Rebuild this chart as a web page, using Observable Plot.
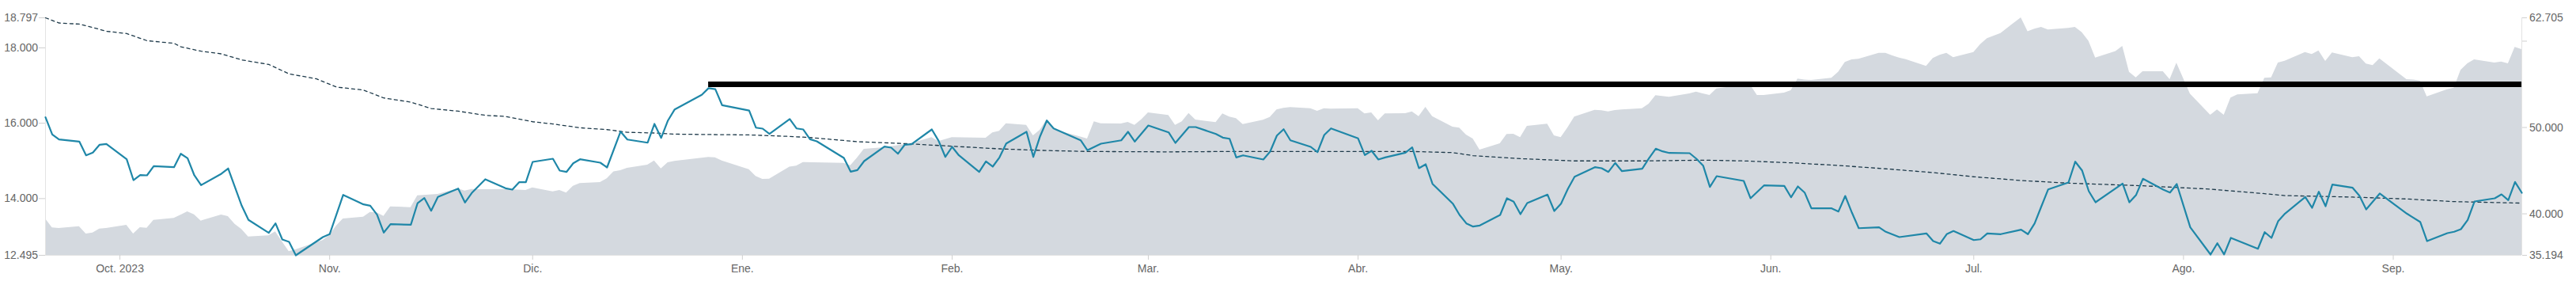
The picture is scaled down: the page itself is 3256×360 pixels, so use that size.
<!DOCTYPE html>
<html>
<head>
<meta charset="utf-8">
<script src="https://cdn.jsdelivr.net/npm/d3@7"></script>
<script src="https://cdn.jsdelivr.net/npm/@observablehq/plot@0.6"></script>
<style>
  html, body { margin: 0; padding: 0; background: #fff; }
  #chart { width: 3256px; height: 360px; }
  svg { font-family: "Liberation Sans", Arial, sans-serif; }
</style>
</head>
<body>
<div id="chart"></div>
<script>
// ---- Price (left axis, blue line) ----
const priceDates = ["2023-09-20","2023-09-21","2023-09-22","2023-09-25","2023-09-26","2023-09-27","2023-09-28","2023-09-29",
"2023-10-02","2023-10-03","2023-10-04","2023-10-05","2023-10-06","2023-10-09","2023-10-10","2023-10-11","2023-10-12","2023-10-13",
"2023-10-16","2023-10-17","2023-10-19","2023-10-20","2023-10-23","2023-10-24","2023-10-25","2023-10-26","2023-10-27","2023-10-31",
"2023-11-01","2023-11-03","2023-11-06","2023-11-07","2023-11-08","2023-11-09","2023-11-10","2023-11-13","2023-11-14","2023-11-15",
"2023-11-16","2023-11-17","2023-11-20","2023-11-21","2023-11-22","2023-11-24","2023-11-27","2023-11-28","2023-11-29","2023-11-30",
"2023-12-01","2023-12-04","2023-12-05","2023-12-06","2023-12-07","2023-12-08","2023-12-11","2023-12-12","2023-12-14","2023-12-15",
"2023-12-18","2023-12-19","2023-12-20","2023-12-21","2023-12-22","2023-12-26","2023-12-27","2023-12-28","2023-12-29",
"2024-01-02","2024-01-03","2024-01-04","2024-01-05","2024-01-08","2024-01-09","2024-01-10","2024-01-11","2024-01-12","2024-01-16",
"2024-01-17","2024-01-18","2024-01-19","2024-01-22","2024-01-23","2024-01-24","2024-01-25","2024-01-26","2024-01-29","2024-01-30",
"2024-01-31","2024-02-01","2024-02-02","2024-02-05","2024-02-06","2024-02-07","2024-02-08","2024-02-09","2024-02-12","2024-02-13",
"2024-02-14","2024-02-15","2024-02-16","2024-02-20","2024-02-21","2024-02-23","2024-02-26","2024-02-27","2024-02-28","2024-03-01",
"2024-03-04","2024-03-05","2024-03-07","2024-03-08","2024-03-11","2024-03-12","2024-03-13","2024-03-14","2024-03-15","2024-03-18",
"2024-03-19","2024-03-20","2024-03-21","2024-03-22","2024-03-25","2024-03-26","2024-03-27","2024-03-28","2024-04-01","2024-04-02",
"2024-04-03","2024-04-04","2024-04-05","2024-04-08","2024-04-09","2024-04-10","2024-04-11","2024-04-12","2024-04-15","2024-04-16",
"2024-04-17","2024-04-18","2024-04-19","2024-04-22","2024-04-23","2024-04-24","2024-04-25","2024-04-26","2024-04-29","2024-04-30",
"2024-05-01","2024-05-02","2024-05-03","2024-05-06","2024-05-07","2024-05-08","2024-05-09","2024-05-10","2024-05-13","2024-05-14",
"2024-05-15","2024-05-16","2024-05-17","2024-05-20","2024-05-21","2024-05-22","2024-05-23","2024-05-24","2024-05-28","2024-05-29",
"2024-05-31","2024-06-03","2024-06-04","2024-06-05","2024-06-06","2024-06-07","2024-06-10","2024-06-11","2024-06-12","2024-06-13",
"2024-06-14","2024-06-17","2024-06-18","2024-06-20","2024-06-24","2024-06-25","2024-06-26","2024-06-27","2024-06-28","2024-07-01",
"2024-07-02","2024-07-03","2024-07-05","2024-07-08","2024-07-09","2024-07-10","2024-07-11","2024-07-12","2024-07-15","2024-07-16",
"2024-07-17","2024-07-18","2024-07-19","2024-07-23","2024-07-24","2024-07-25","2024-07-26","2024-07-29","2024-07-30","2024-07-31",
"2024-08-02","2024-08-05","2024-08-06","2024-08-07","2024-08-08","2024-08-12","2024-08-13","2024-08-14","2024-08-15","2024-08-16",
"2024-08-19","2024-08-20","2024-08-21","2024-08-22","2024-08-23","2024-08-26","2024-08-27","2024-08-28","2024-08-30","2024-09-03",
"2024-09-05","2024-09-06","2024-09-09","2024-09-10","2024-09-11","2024-09-12","2024-09-13","2024-09-16","2024-09-17","2024-09-18",
"2024-09-19","2024-09-20"];
const priceValues = [16.157,15.702,15.568,15.514,15.148,15.219,15.430,15.450,
15.043,14.490,14.623,14.617,14.862,14.833,15.190,15.072,14.617,14.358,
14.659,14.800,13.812,13.434,13.090,13.342,12.915,12.852,12.495,12.978,
13.056,14.098,13.846,13.812,13.573,13.098,13.321,13.308,13.881,14.014,
13.678,14.043,14.266,13.896,14.148,14.512,14.274,14.238,14.434,14.434,
14.974,15.058,14.743,14.707,14.938,15.043,14.953,14.827,15.778,15.568,
15.484,15.982,15.610,16.072,16.367,16.753,16.930,16.903,16.480,
16.335,15.883,15.856,15.715,16.112,15.862,15.835,15.576,15.520,15.079,
14.715,14.757,14.995,15.379,15.352,15.190,15.430,15.442,15.835,15.534,
15.106,15.373,15.148,14.707,14.988,14.848,15.093,15.463,15.772,15.106,
15.652,16.072,15.862,15.547,15.282,15.457,15.547,15.772,15.514,15.940,
15.757,15.478,15.898,15.898,15.715,15.618,15.589,15.093,15.148,15.037,
15.247,15.673,15.841,15.547,15.373,15.232,15.688,15.862,15.597,15.155,
15.268,15.037,15.093,15.219,15.358,14.806,14.911,14.392,13.867,13.566,
13.342,13.258,13.287,13.566,14.008,13.917,13.587,13.881,14.106,13.671,
13.867,14.253,14.581,14.833,14.806,14.707,14.946,14.728,14.791,15.072,
15.324,15.254,15.211,15.205,15.058,14.875,14.308,14.596,14.470,14.008,
14.350,14.337,14.035,14.323,14.161,13.741,13.741,13.657,14.070,13.623,
13.215,13.237,13.119,12.978,13.077,12.873,12.803,13.056,13.140,12.900,
12.921,13.077,13.056,13.174,13.056,13.342,13.797,14.245,14.428,14.980,
14.749,14.196,13.902,14.400,13.902,14.098,14.526,14.238,14.161,14.386,
13.237,12.516,12.816,12.520,12.957,12.669,13.110,12.957,13.405,13.602,
14.043,13.755,14.182,13.797,14.371,14.287,14.077,13.713,14.134,13.602,
13.377,12.873,13.083,13.119,13.188,13.434,13.923,14.008,14.112,13.959,
14.442,14.154];

// ---- Moving average (left axis, dashed) ----
const maDates = ["2023-09-20","2023-09-22","2023-09-25","2023-09-27","2023-09-29","2023-10-02","2023-10-05","2023-10-09","2023-10-10",
"2023-10-13","2023-10-16","2023-10-19","2023-10-23","2023-10-26","2023-10-30","2023-11-02","2023-11-06","2023-11-09","2023-11-13",
"2023-11-16","2023-11-20","2023-11-24","2023-11-27","2023-12-01","2023-12-04","2023-12-08","2023-12-12","2023-12-15","2023-12-19",
"2023-12-22","2023-12-27","2024-01-02","2024-01-05","2024-01-08","2024-01-11","2024-01-18","2024-01-25","2024-02-01","2024-02-08",
"2024-02-14","2024-02-21","2024-03-04","2024-03-13","2024-03-21","2024-04-01","2024-04-09","2024-04-15","2024-04-18","2024-04-25",
"2024-05-03","2024-05-13","2024-05-22","2024-05-28","2024-06-04","2024-06-11","2024-06-18","2024-06-25","2024-07-01","2024-07-08",
"2024-07-15","2024-07-26","2024-08-05","2024-08-13","2024-08-16","2024-08-26","2024-09-03","2024-09-10","2024-09-20"];
const maValues = [18.797,18.66,18.63,18.54,18.44,18.38,18.19,18.12,18.03,
17.91,17.84,17.68,17.56,17.31,17.18,16.96,16.88,16.67,16.56,
16.39,16.32,16.21,16.18,16.04,15.98,15.88,15.83,15.76,15.74,
15.71,15.70,15.69,15.67,15.65,15.62,15.51,15.46,15.39,15.32,
15.28,15.25,15.24,15.25,15.25,15.25,15.25,15.22,15.14,15.06,
15.00,15.00,15.02,15.00,14.95,14.88,14.79,14.69,14.58,14.48,
14.41,14.34,14.25,14.13,14.08,14.04,13.99,13.92,13.88];

// ---- Comparison series (right axis, grey area) ----
const areaDates = ["2023-09-20","2023-09-21","2023-09-22","2023-09-25","2023-09-26","2023-09-27","2023-09-28","2023-09-29",
"2023-10-02","2023-10-03","2023-10-04","2023-10-05","2023-10-06","2023-10-09","2023-10-10","2023-10-11","2023-10-12","2023-10-13",
"2023-10-16","2023-10-17","2023-10-18","2023-10-19","2023-10-20","2023-10-23","2023-10-24","2023-10-25","2023-10-26","2023-10-27",
"2023-10-31","2023-11-01","2023-11-02","2023-11-03","2023-11-06","2023-11-07","2023-11-08","2023-11-09","2023-11-10","2023-11-13",
"2023-11-14","2023-11-17","2023-11-20","2023-11-21","2023-11-22","2023-11-24","2023-11-27","2023-11-30","2023-12-01","2023-12-04",
"2023-12-05","2023-12-06","2023-12-07","2023-12-08","2023-12-11","2023-12-12","2023-12-13","2023-12-14","2023-12-15","2023-12-18",
"2023-12-19","2023-12-20","2023-12-21","2023-12-22","2023-12-27","2023-12-28","2023-12-29","2024-01-02","2024-01-03","2024-01-04",
"2024-01-05","2024-01-08","2024-01-09","2024-01-10","2024-01-16","2024-01-17","2024-01-18","2024-01-19","2024-01-22","2024-01-26",
"2024-01-29","2024-01-30","2024-02-01","2024-02-06","2024-02-07","2024-02-08","2024-02-09","2024-02-12","2024-02-13","2024-02-14",
"2024-02-15","2024-02-16","2024-02-20","2024-02-21","2024-02-22","2024-02-23","2024-02-26","2024-02-27","2024-02-28","2024-02-29",
"2024-03-01","2024-03-04","2024-03-05","2024-03-06","2024-03-07","2024-03-08","2024-03-11","2024-03-12","2024-03-13","2024-03-14",
"2024-03-15","2024-03-18","2024-03-19","2024-03-20","2024-03-21","2024-03-22","2024-03-25","2024-03-26","2024-03-27","2024-03-28",
"2024-04-01","2024-04-02","2024-04-03","2024-04-04","2024-04-05","2024-04-08","2024-04-09","2024-04-10","2024-04-11","2024-04-12",
"2024-04-15","2024-04-16","2024-04-17","2024-04-18","2024-04-19","2024-04-22","2024-04-23","2024-04-24","2024-04-25","2024-04-26",
"2024-04-29","2024-04-30","2024-05-01","2024-05-02","2024-05-03","2024-05-06","2024-05-07","2024-05-08","2024-05-09","2024-05-10",
"2024-05-13","2024-05-14","2024-05-15","2024-05-16","2024-05-17","2024-05-20","2024-05-21","2024-05-22","2024-05-23","2024-05-24",
"2024-05-28","2024-05-29","2024-05-30","2024-05-31","2024-06-03","2024-06-04","2024-06-05","2024-06-06","2024-06-07","2024-06-10",
"2024-06-11","2024-06-12","2024-06-13","2024-06-14","2024-06-17","2024-06-18","2024-06-19","2024-06-20","2024-06-21","2024-06-24",
"2024-06-25","2024-06-26","2024-06-27","2024-06-28","2024-07-01","2024-07-02","2024-07-03","2024-07-05","2024-07-08","2024-07-09",
"2024-07-10","2024-07-11","2024-07-12","2024-07-15","2024-07-16","2024-07-17","2024-07-18","2024-07-19","2024-07-22","2024-07-23",
"2024-07-24","2024-07-25","2024-07-26","2024-07-29","2024-07-30","2024-07-31","2024-08-02","2024-08-05","2024-08-06","2024-08-07",
"2024-08-08","2024-08-09","2024-08-12","2024-08-13","2024-08-14","2024-08-15","2024-08-16","2024-08-19","2024-08-20","2024-08-21",
"2024-08-22","2024-08-23","2024-08-26","2024-08-27","2024-08-28","2024-08-29","2024-08-30","2024-09-03","2024-09-04","2024-09-05",
"2024-09-06","2024-09-09","2024-09-10","2024-09-11","2024-09-12","2024-09-13","2024-09-16","2024-09-17","2024-09-18","2024-09-19",
"2024-09-20"];
const areaValues = [39.41,38.37,38.31,38.52,37.67,37.79,38.25,38.31,
38.68,37.67,38.40,38.34,39.26,39.48,39.84,40.24,39.90,39.17,
39.87,39.69,38.80,38.20,37.33,37.46,37.92,36.75,35.62,35.84,
36.91,37.51,38.59,39.41,39.62,40.17,40.12,39.72,40.82,40.72,
42.10,42.26,42.90,42.65,42.83,42.80,42.83,42.71,43.02,42.56,
42.71,42.41,43.20,43.51,43.63,44.06,44.88,45.01,45.28,45.65,
46.13,45.22,45.92,46.08,46.54,46.50,46.13,45.12,44.35,43.99,
44.03,45.43,45.53,45.95,45.86,45.58,46.47,47.48,47.67,48.15,
48.83,48.37,48.83,48.77,49.38,49.56,50.44,50.26,49.04,49.68,
50.90,49.75,48.90,48.67,50.66,50.44,50.42,50.60,50.26,50.90,
51.70,51.40,50.26,50.66,51.64,50.88,50.57,51.58,51.21,51.03,
50.35,50.85,51.18,52.04,52.22,52.31,52.19,51.88,52.19,52.13,
52.19,51.58,51.70,50.78,51.58,51.61,51.82,51.27,52.34,51.27,
50.05,49.93,49.13,48.67,47.39,48.12,49.20,49.22,48.83,50.14,
50.39,49.04,48.83,49.96,51.21,52.00,51.95,51.82,51.98,52.05,
52.19,52.71,53.69,53.60,53.51,53.90,54.11,53.90,53.72,54.48,
54.90,54.90,53.72,53.72,54.00,54.27,55.62,55.50,55.46,55.71,
56.41,57.54,57.85,57.91,58.61,58.61,58.30,58.06,57.87,57.08,
58.00,58.37,58.61,58.09,58.70,59.60,60.30,60.90,62.705,61.10,
61.40,61.60,61.30,61.50,61.60,61.00,60.00,58.06,58.80,59.40,
56.41,55.76,56.47,56.47,55.55,57.45,53.87,51.43,52.04,51.43,
53.41,53.78,53.93,55.71,55.76,57.48,57.69,58.70,58.46,58.88,
57.66,58.65,58.09,58.21,57.36,57.18,57.96,55.55,55.50,55.40,
53.56,54.39,54.57,56.62,57.39,57.85,57.48,57.60,57.39,59.28,
59.04];

// ---- Reference level (black rule, right-axis units) ----
const levelValue = 55.0;
const levelStart = "2023-12-27";
const levelEnd = "2024-09-20";

// ---- Axes ----
const leftDomain = [12.495, 18.797];
const rightDomain = [35.194, 62.705];
const leftTicks = [12.495, 14, 16, 18, 18.797];
const rightTicks = [35.194, 40, 50, 60, 62.705];
const rightUnlabeled = [60];
const monthTicks = ["2023-10-01","2023-11-01","2023-12-01","2024-01-01","2024-02-01","2024-03-01","2024-04-01","2024-05-01","2024-06-01","2024-07-01","2024-08-01","2024-09-01"];
const monthLabels = ["Oct. 2023","Nov.","Dic.","Ene.","Feb.","Mar.","Abr.","May.","Jun.","Jul.","Ago.","Sep."];
const xDomain = ["2023-09-20", "2024-09-20"];

// ---- Build ----
const parse = d3.utcParse("%Y-%m-%d");
const toLeft = d3.scaleLinear().domain(rightDomain).range(leftDomain);
const fmt = d3.format(".3f");

const price = priceDates.map((d, i) => ({date: parse(d), value: priceValues[i]}));
const ma = maDates.map((d, i) => ({date: parse(d), value: maValues[i]}));
const area = areaDates.map((d, i) => ({date: parse(d), value: toLeft(areaValues[i])}));
const months = monthTicks.map(parse);
const monthLabelMap = new Map(months.map((d, i) => [+d, monthLabels[i]]));
const x0 = parse(xDomain[0]), x1 = parse(xDomain[1]);

const axisColor = "#e3e3e3";
const tickColor = "#d0d0d0";
const textColor = "#666";

const chart = Plot.plot({
  width: 3256,
  height: 360,
  marginLeft: 57,
  marginRight: 69,
  marginTop: 22,
  marginBottom: 38,
  style: {fontFamily: "'Liberation Sans', Arial, sans-serif", fontSize: "14px", background: "#fff"},
  x: {type: "utc", domain: [x0, x1]},
  y: {domain: leftDomain},
  marks: [
    Plot.areaY(area, {x: "date", y1: leftDomain[0], y2: "value", fill: "#d4d9df", curve: "linear"}),
    Plot.ruleX([x0], {stroke: axisColor, strokeWidth: 1}),
    Plot.ruleX([x1], {stroke: axisColor, strokeWidth: 1}),
    Plot.ruleY([leftDomain[0]], {stroke: axisColor, strokeWidth: 1}),
    Plot.line(ma, {x: "date", y: "value", stroke: "#1e3a4a", strokeWidth: 1.3, strokeDasharray: "4,4"}),
    Plot.line(price, {x: "date", y: "value", stroke: "#1f87a8", strokeWidth: 2.2}),
    Plot.ruleY([toLeft(levelValue)], {x1: parse(levelStart), x2: parse(levelEnd), stroke: "#000", strokeWidth: 7}),
    Plot.axisX(months, {
      tickFormat: d => monthLabelMap.get(+d), tickSize: 6, tickPadding: 6,
      stroke: tickColor, fill: textColor, fontSize: 14, label: null
    }),
    Plot.axisY(leftTicks, {
      anchor: "left", tickFormat: fmt, tickSize: 8, tickPadding: 1.5,
      stroke: tickColor, fill: textColor, fontSize: 14, label: null
    }),
    Plot.axisY(rightTicks.map(toLeft), {
      anchor: "right",
      tickFormat: d => {
        const v = toLeft.invert(d);
        return rightUnlabeled.some(u => Math.abs(u - v) < 1e-6) ? "" : fmt(v);
      },
      tickSize: 6, tickPadding: 3.5,
      stroke: tickColor, fill: textColor, fontSize: 14, label: null
    })
  ]
});
document.getElementById("chart").appendChild(chart);
</script>
</body>
</html>
